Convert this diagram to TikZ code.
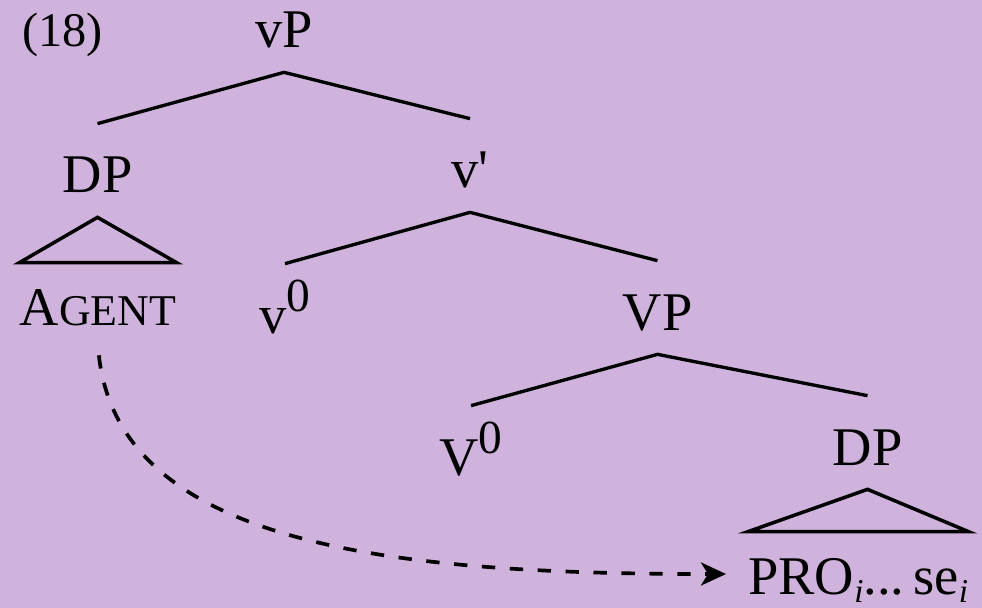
\documentclass[tikz,border=0pt]{standalone}
\usepackage{fontspec}
\setmainfont{Liberation Serif}
\usepackage{tikz}
\usetikzlibrary{arrows.meta}
\definecolor{bgpurple}{RGB}{207,179,221}
\newcommand{\supzero}{\raisebox{0.43cm}{\fontsize{27}{27}\selectfont 0}}
\newcommand{\subi}{\raisebox{-0.17cm}{\fontsize{19}{19}\selectfont\itshape i}}

\begin{document}
\begin{tikzpicture}[
  font=\fontsize{31}{36}\selectfont,
  cat/.style={anchor=base, text height=1.0cm, text depth=0.1cm, inner ysep=0.38cm, inner xsep=0pt},
  leaf/.style={anchor=base, text height=0.9cm, text depth=0.1cm, inner ysep=0.34cm, inner xsep=0pt},
  branch/.style={line width=1.9pt, line join=round},
  tri/.style={line width=2pt, line join=miter},
  move/.style={line width=2.1pt, dash pattern=on 7.6pt off 8.3pt,
               -{Stealth[length=0.5cm, width=0.46cm, inset=0.14cm]}}
]

\fill[bgpurple, use as bounding box] (0,0) rectangle (19.64,-12.16);

\node[anchor=base west, inner sep=0pt, font=\fontsize{27.5}{32}\selectfont] (ex) at (0.44,-0.94) {(18)};

\node[cat] (vP)    at (5.68,-0.96)  {vP};
\node[cat] (DPa)   at (1.95,-3.86)  {DP};
\node[cat] (vbar)  at (9.40,-3.76)  {v\textquotesingle};
\node[cat] (vzero) at (5.70,-6.66)  {v\supzero};
\node[cat] (VPn)   at (13.15,-6.60) {VP};
\node[cat] (Vzero) at (9.42,-9.50)  {V\supzero};
\node[cat] (DPb)   at (17.35,-9.30) {DP};

\node[leaf] (agent) at (1.96,-6.50) {A{\fontsize{25}{30}\selectfont GENT}};
\node[leaf, anchor=base west] (pro) at (14.96,-11.88) {PRO\subi...\,se\subi};

\draw[branch] (DPa.north) -- (vP.south) -- (vbar.north);
\draw[branch] (vzero.north) -- (vbar.south) -- (VPn.north);
\draw[branch] (Vzero.north) -- (VPn.south) -- (DPb.north);

\draw[tri] (DPa.south) -- (agent.north west) -- (agent.north east) -- cycle;
\draw[tri] (DPb.south) -- (pro.north west) -- (pro.north east) -- cycle;

\draw[move, shorten <=0.16cm, shorten >=0.44cm]
  (agent.south) .. controls +(0.44,-4.0) and +(-7.0,0) .. (pro.west);

\end{tikzpicture}
\end{document}
